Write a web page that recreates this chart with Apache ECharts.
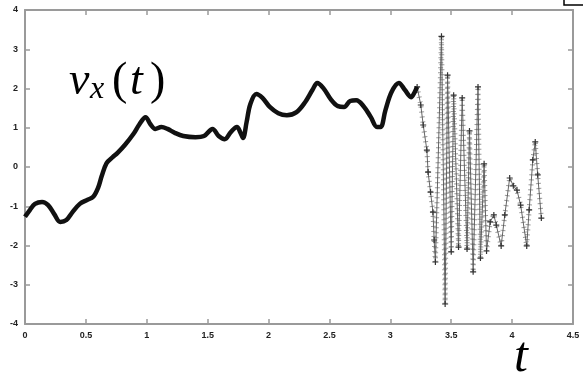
<!DOCTYPE html>
<html>
<head>
<meta charset="utf-8">
<script src="https://cdn.jsdelivr.net/npm/echarts@6/dist/echarts.min.js"></script>
<style>
  html, body { margin: 0; padding: 0; background: #fff; }
  #chart { width: 583px; height: 381px; }
</style>
</head>
<body>
<div id="chart"></div>
<script>
// Velocity component v_x(t): slow, densely sampled stretch
const tSlow = [0, 0.041, 0.082, 0.14, 0.19, 0.24, 0.29, 0.34, 0.39, 0.45, 0.51, 0.56, 0.60, 0.63, 0.67,
  0.72, 0.76, 0.82, 0.89, 0.94, 0.99, 1.03, 1.07, 1.12, 1.17, 1.23, 1.30, 1.40, 1.47, 1.54, 1.59,
  1.64, 1.69, 1.74, 1.77, 1.79, 1.82, 1.85, 1.90, 1.95, 2.01, 2.08, 2.15, 2.23, 2.30, 2.36, 2.40,
  2.45, 2.51, 2.57, 2.62, 2.67, 2.72, 2.78, 2.84, 2.89, 2.92, 2.96, 3.01, 3.07, 3.12, 3.17, 3.20, 3.22];
const vSlow = [-1.27, -1.09, -0.94, -0.89, -0.97, -1.20, -1.40, -1.35, -1.15, -0.94, -0.84, -0.76, -0.53, -0.23, 0.10,
  0.25, 0.36, 0.56, 0.84, 1.09, 1.27, 1.09, 0.97, 1.02, 0.97, 0.87, 0.79, 0.76, 0.79, 0.97, 0.79,
  0.71, 0.89, 1.02, 0.87, 0.74, 1.15, 1.60, 1.86, 1.76, 1.53, 1.37, 1.32, 1.40, 1.65, 1.96, 2.14,
  2.01, 1.73, 1.55, 1.53, 1.68, 1.70, 1.55, 1.27, 1.02, 1.02, 1.45, 1.91, 2.14, 1.96, 1.78, 1.91, 2.04];

// Fast oscillating stretch after t ≈ 3.2
const tFast = [3.22, 3.25, 3.27, 3.30, 3.31, 3.33, 3.35, 3.36, 3.37, 3.42, 3.45, 3.47, 3.50, 3.52, 3.56,
  3.59, 3.63, 3.65, 3.68, 3.72, 3.74, 3.77, 3.79, 3.82, 3.85, 3.87, 3.91, 3.94, 3.98, 4.01, 4.04,
  4.07, 4.12, 4.14, 4.17, 4.19, 4.21, 4.24];
const vFast = [2.04, 1.58, 1.07, 0.43, -0.13, -0.64, -1.15, -1.86, -2.42, 3.33, -3.49, 2.34, -2.16, 1.83, -2.04,
  1.76, -2.09, 0.92, -2.67, 2.04, -2.32, 0.08, -2.14, -1.40, -1.22, -1.48, -2.01, -1.22, -0.28, -0.48, -0.59,
  -0.97, -2.01, -1.09, 0.18, 0.64, -0.20, -1.30];

const xTicks = [0, 0.5, 1, 1.5, 2, 2.5, 3, 3.5, 4, 4.5];
const yTicks = [-4, -3, -2, -1, 0, 1, 2, 3, 4];

const pairs = (ts, vs) => ts.map((t, i) => [t, vs[i]]);
const slowData = pairs(tSlow, vSlow);
const fastData = pairs(tFast, vFast);

const axisGray = '#9a9a9a';
const labelStyle = { color: '#222', fontSize: 9, fontWeight: 'bold', fontFamily: 'Liberation Sans, Arial, sans-serif' };
const plusPath = 'path://M4,0H6V4H10V6H6V10H4V6H0V4H4Z';

const xBase = {
  type: 'value', min: xTicks[0], max: xTicks[xTicks.length - 1], interval: 0.5,
  axisLine: { show: true, onZero: false, lineStyle: { color: axisGray, width: 2 } },
  axisTick: { show: true, inside: true, length: 5, lineStyle: { color: axisGray, width: 1.5 } },
  splitLine: { show: false }
};
const yBase = {
  type: 'value', min: yTicks[0], max: yTicks[yTicks.length - 1], interval: 1,
  axisLine: { show: true, onZero: false, lineStyle: { color: axisGray, width: 2 } },
  axisTick: { show: true, inside: true, length: 5, lineStyle: { color: axisGray, width: 1.5 } },
  splitLine: { show: false }
};

const chart = echarts.init(document.getElementById('chart'), null, { renderer: 'canvas' });
chart.setOption({
  animation: false,
  backgroundColor: '#fff',
  grid: { left: 25, right: 10, top: 10, bottom: 57 },
  xAxis: [
    Object.assign({}, xBase, { position: 'bottom',
      axisLabel: Object.assign({ margin: 7, formatter: v => String(v) }, labelStyle) }),
    Object.assign({}, xBase, { position: 'top', axisLabel: { show: false } })
  ],
  yAxis: [
    Object.assign({}, yBase, { position: 'left',
      axisLabel: Object.assign({ margin: 7, formatter: v => String(v) }, labelStyle) }),
    Object.assign({}, yBase, { position: 'right', axisLabel: { show: false } })
  ],
  series: [
    {
      type: 'line', data: slowData, smooth: 0.35, showSymbol: false,
      lineStyle: { color: '#111', width: 4.5 }, z: 3
    },
    {
      type: 'line', data: fastData, smooth: false,
      symbol: plusPath, symbolSize: 6, showSymbol: true,
      itemStyle: { color: '#333' },
      lineStyle: { color: '#666', width: 1 }, z: 2
    },
    {
      // little cross-bars along the fast stretch, like the sample markers
      type: 'line', data: fastData, smooth: false, showSymbol: false, silent: true,
      lineStyle: { color: '#555', width: 5, type: [1, 4], opacity: 0.6 }, z: 2
    }
  ],
  graphic: [
    { type: 'text', x: 69, y: 82, style: { text: 'v', font: 'italic 46px "Liberation Serif", serif', fill: '#000', verticalAlign: 'middle' } },
    { type: 'text', x: 90, y: 90, style: { text: 'x', font: 'italic 32px "Liberation Serif", serif', fill: '#000', verticalAlign: 'middle' } },
    { type: 'text', x: 112, y: 82, style: { text: '(', font: '46px "Liberation Serif", serif', fill: '#000', verticalAlign: 'middle' } },
    { type: 'text', x: 130, y: 82, style: { text: 't', font: 'italic 46px "Liberation Serif", serif', fill: '#000', verticalAlign: 'middle' } },
    { type: 'text', x: 150, y: 82, style: { text: ')', font: '46px "Liberation Serif", serif', fill: '#000', verticalAlign: 'middle' } },
    { type: 'text', x: 514, y: 358, style: { text: 't', font: 'italic 50px "Liberation Serif", serif', fill: '#000', verticalAlign: 'middle' } },
    { type: 'rect', shape: { x: 564, y: -10, width: 30, height: 15 }, style: { fill: 'none', stroke: '#000', lineWidth: 1.5 } }
  ]
});
</script>
</body>
</html>
